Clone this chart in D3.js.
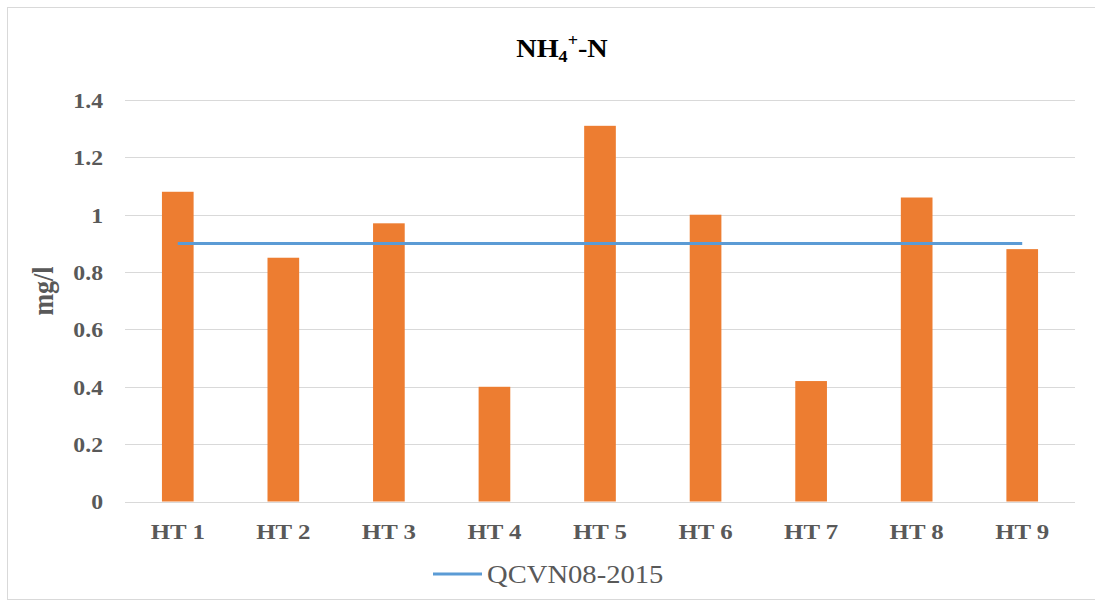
<!DOCTYPE html>
<html>
<head>
<meta charset="utf-8">
<script src="https://cdn.jsdelivr.net/npm/d3@7"></script>
<style>
  html, body { margin: 0; padding: 0; background: #fff; }
  svg { display: block; }
</style>
</head>
<body>
<svg id="chart" width="1095" height="602"></svg>
<script>
// Sampling sites and measured ammonium nitrogen (mg/l)
const categories = ["HT 1", "HT 2", "HT 3", "HT 4", "HT 5", "HT 6", "HT 7", "HT 8", "HT 9"];
const nh4Values = [1.08, 0.85, 0.97, 0.40, 1.31, 1.00, 0.42, 1.06, 0.88];
// Regulatory limit (QCVN08-2015) for each site
const limitValues = [0.9, 0.9, 0.9, 0.9, 0.9, 0.9, 0.9, 0.9, 0.9];
const yTicks = [0, 0.2, 0.4, 0.6, 0.8, 1, 1.2, 1.4];
const limitName = "QCVN08-2015";

const svg = d3.select("#chart");
const W = 1095, H = 602;
const plot = { left: 125, right: 1075, top: 100, bottom: 501.5 };
const serif = "Liberation Serif, Times New Roman, serif";
const gray = "#595959";
const stretch = 1.13; // text is set slightly wide

// chart frame
svg.append("rect")
  .attr("x", 7.5).attr("y", 7.5)
  .attr("width", W + 10).attr("height", H - 10)
  .attr("fill", "#fff").attr("stroke", "#d9d9d9").attr("stroke-width", 1);

const x = d3.scaleBand().domain(categories)
  .range([plot.left, plot.right]).paddingInner(0.7).paddingOuter(0.35);
const y = d3.scaleLinear().domain([0, 1.4]).range([plot.bottom, plot.top]);

// horizontal gridlines
svg.append("g").selectAll("line").data(yTicks).join("line")
  .attr("x1", plot.left).attr("x2", plot.right)
  .attr("y1", d => Math.round(y(d)) + 0.5).attr("y2", d => Math.round(y(d)) + 0.5)
  .attr("stroke", "#d9d9d9").attr("stroke-width", 1);

// y axis tick labels
const yAxis = d3.axisLeft(y).tickValues(yTicks).tickSize(0).tickPadding(0)
  .tickFormat(d => String(d));
const yg = svg.append("g").attr("transform", `translate(${plot.left - 22},0)`).call(yAxis);
yg.select(".domain").remove();
yg.selectAll("text")
  .attr("x", 0)
  .attr("transform", `scale(${stretch},1)`)
  .attr("font-family", serif).attr("font-weight", "bold")
  .attr("font-size", 21).attr("fill", gray).attr("dy", "0.35em");

// x axis category labels
const xAxis = d3.axisBottom(x).tickSize(0).tickPadding(0);
const xg = svg.append("g").attr("transform", `translate(0,${plot.bottom + 22})`).call(xAxis);
xg.select(".domain").remove();
xg.selectAll("text")
  .attr("transform", `scale(${stretch},1)`)
  .attr("font-family", serif).attr("font-weight", "bold")
  .attr("font-size", 22).attr("fill", gray).attr("dy", "0.72em");

// bars
svg.append("g").selectAll("rect").data(categories).join("rect")
  .attr("x", d => x(d))
  .attr("width", x.bandwidth())
  .attr("y", (d, i) => y(nh4Values[i]))
  .attr("height", (d, i) => y(0) - y(nh4Values[i]))
  .attr("fill", "#ED7D31");

// limit line
const line = d3.line()
  .x((d, i) => x(categories[i]) + x.bandwidth() / 2)
  .y(d => y(d));
svg.append("path").datum(limitValues)
  .attr("d", line)
  .attr("fill", "none").attr("stroke", "#5B9BD5").attr("stroke-width", 3);

// title
const title = svg.append("text")
  .attr("transform", `translate(562,57) scale(${stretch},1)`)
  .attr("text-anchor", "middle")
  .attr("font-family", serif).attr("font-weight", "bold")
  .attr("font-size", 25).attr("fill", "#000");
title.append("tspan").text("NH");
title.append("tspan").attr("font-size", 16).attr("dy", 5).text("4");
title.append("tspan").attr("font-size", 16).attr("dy", -16).text("+");
title.append("tspan").attr("dy", 11).text("-N");

// y axis title
svg.append("text")
  .attr("transform", `translate(53,291) scale(${stretch},1) rotate(-90)`)
  .attr("text-anchor", "middle")
  .attr("font-family", serif).attr("font-weight", "bold")
  .attr("font-size", 26).attr("fill", gray)
  .text("mg/l");

// legend
const lg = svg.append("g");
lg.append("line")
  .attr("x1", 433).attr("x2", 482).attr("y1", 574).attr("y2", 574)
  .attr("stroke", "#5B9BD5").attr("stroke-width", 3);
lg.append("text")
  .attr("transform", `translate(487,583) scale(1.1,1)`)
  .attr("font-family", serif)
  .attr("font-size", 26).attr("fill", gray)
  .text(limitName);
</script>
</body>
</html>
